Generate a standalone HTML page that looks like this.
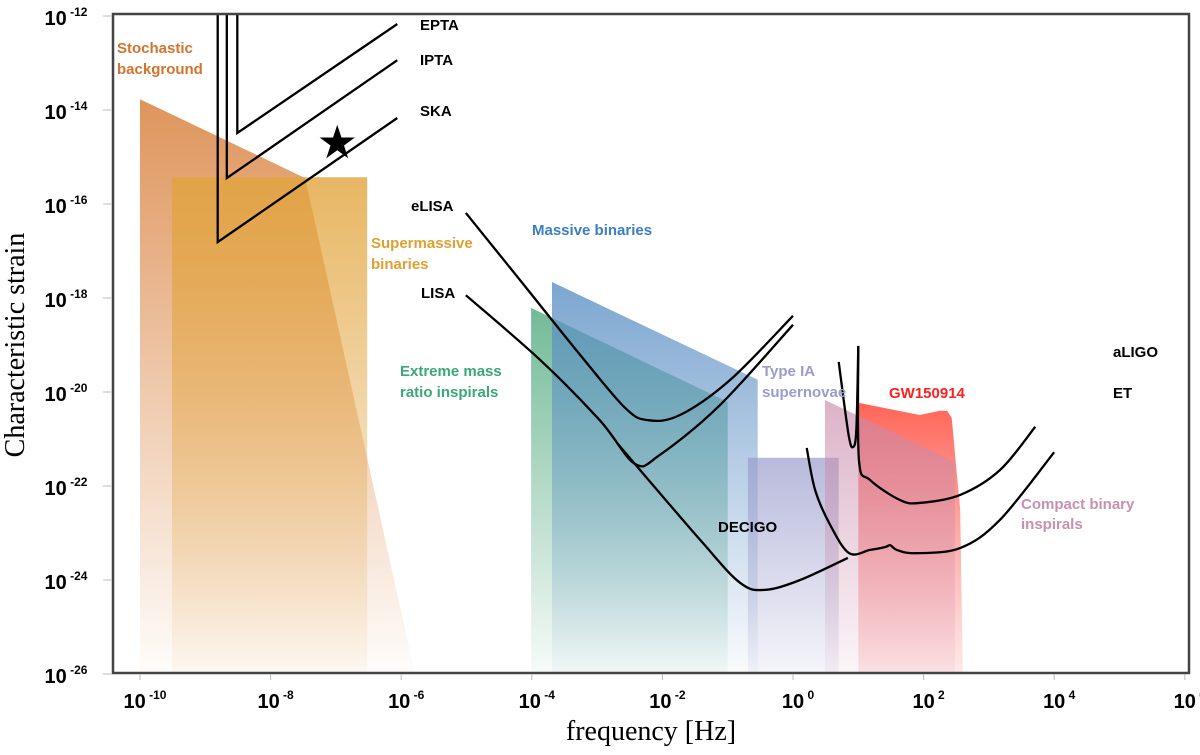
<!DOCTYPE html>
<html><head><meta charset="utf-8"><style>
body{margin:0;background:#fff;}
svg text{font-family:"Liberation Sans",sans-serif;}
</style></head><body>
<svg id="chart" width="1200" height="750" viewBox="0 0 1200 750" xmlns="http://www.w3.org/2000/svg">
<defs>
<linearGradient id="gOr" x1="0" y1="0" x2="0" y2="1"><stop offset="0" stop-color="#d9823f" stop-opacity="0.85"/><stop offset="1" stop-color="#d9823f" stop-opacity="0.02"/></linearGradient>
<linearGradient id="gYe" x1="0" y1="0" x2="0" y2="1"><stop offset="0" stop-color="#e2a43c" stop-opacity="0.8"/><stop offset="1" stop-color="#e2a43c" stop-opacity="0.05"/></linearGradient>
<linearGradient id="gGr" x1="0" y1="0" x2="0" y2="1"><stop offset="0" stop-color="#5aae86" stop-opacity="0.85"/><stop offset="1" stop-color="#5aae86" stop-opacity="0.05"/></linearGradient>
<linearGradient id="gBl" x1="0" y1="0" x2="0" y2="1"><stop offset="0" stop-color="#5b8fc4" stop-opacity="0.8"/><stop offset="1" stop-color="#5b8fc4" stop-opacity="0.03"/></linearGradient>
<linearGradient id="gLa" x1="0" y1="0" x2="0" y2="1"><stop offset="0" stop-color="#9a9ccc" stop-opacity="0.7"/><stop offset="1" stop-color="#9a9ccc" stop-opacity="0.1"/></linearGradient>
<linearGradient id="gPk" x1="0" y1="0" x2="0" y2="1"><stop offset="0" stop-color="#c98aaa" stop-opacity="0.65"/><stop offset="1" stop-color="#c98aaa" stop-opacity="0.08"/></linearGradient>
<linearGradient id="gRd" x1="0" y1="0" x2="0" y2="1"><stop offset="0" stop-color="#ff4a3a" stop-opacity="0.85"/><stop offset="1" stop-color="#ff6a6a" stop-opacity="0.15"/></linearGradient>
</defs>
<g id="regions"></g>
<g id="curves"></g>
<rect x="113" y="14" width="1076" height="659" fill="none" stroke="#444" stroke-width="2.5"/>
<g id="ticks"></g>
<g font-weight="bold" font-size="15">
<text x="117" y="53" fill="#d2732e">Stochastic</text>
<text x="117" y="74" fill="#d2732e">background</text>
<text x="371" y="248" fill="#e0a030">Supermassive</text>
<text x="371" y="269" fill="#e0a030">binaries</text>
<text x="532" y="235" fill="#3c7fc0">Massive binaries</text>
<text x="400" y="376" fill="#3aa878">Extreme mass</text>
<text x="400" y="397" fill="#3aa878">ratio inspirals</text>
<text x="762" y="376" fill="#9a9ccc">Type IA</text>
<text x="762" y="397" fill="#9a9ccc">supernovae</text>
<text x="889" y="398" fill="#ff2020">GW150914</text>
<text x="1021" y="509" fill="#c890b0">Compact binary</text>
<text x="1021" y="529" fill="#c890b0">inspirals</text>
<g fill="#000">
<text x="420" y="30">EPTA</text>
<text x="420" y="65">IPTA</text>
<text x="420" y="116">SKA</text>
<text x="411" y="211">eLISA</text>
<text x="421" y="298">LISA</text>
<text x="718" y="532">DECIGO</text>
<text x="1113" y="357">aLIGO</text>
<text x="1113" y="398">ET</text>
</g></g>
<text id="star" x="0" y="0" font-size="46" text-anchor="middle" font-family="DejaVu Sans">★</text>
<text x="651" y="740" text-anchor="middle" font-size="28" style="font-family:'Liberation Serif',serif">frequency [Hz]</text>
<text transform="translate(24,345) rotate(-90)" text-anchor="middle" font-size="28" style="font-family:'Liberation Serif',serif">Characteristic strain</text>
</svg>
<script>
const xTicks=[-10,-8,-6,-4,-2,0,2,4,6];
const yTicks=[-12,-14,-16,-18,-20,-22,-24,-26];
const stochastic=[[-10,-13.77],[-7.47,-15.45],[-5.79,-26],[-10,-26]];
const supermassive=[[-9.51,-15.43],[-6.52,-15.43],[-6.52,-26],[-9.51,-26]];
const emri=[[-4.01,-18.21],[-1.0,-20.21],[-1.0,-26],[-4.01,-26]];
const massive=[[-3.69,-17.66],[-0.54,-19.74],[-0.54,-26],[-3.69,-26]];
const typeIa=[[-0.69,-21.40],[0.70,-21.40],[0.70,-26],[-0.69,-26]];
const compact=[[0.49,-20.17],[2.48,-21.49],[2.48,-26],[0.49,-26]];
const gw150914=[[1.0,-20.23],[1.94,-20.49],[2.25,-20.40],[2.36,-20.40],[2.43,-20.55],[2.56,-22.51],[2.60,-26],[1.0,-26]];
const epta=[[-8.51,-11.96],[-8.51,-14.49],[-6.06,-12.17]];
const ipta=[[-8.67,-11.96],[-8.67,-15.45],[-6.06,-12.94]];
const ska=[[-8.81,-11.96],[-8.81,-16.81],[-6.06,-14.17]];
const elisa=[[-5.01,-16.19],[-4.18,-17.62],[-3.26,-19.21],[-2.57,-20.34],[-2.22,-20.60],[-1.73,-20.49],[-0.96,-19.74],[0.0,-18.38]];
const lisa=[[-5.01,-17.94],[-3.87,-19.32],[-2.96,-20.60],[-2.42,-21.53],[-2.04,-21.34],[-1.12,-20.28],[0.0,-18.57]];
const decigo=[[-2.68,-21.11],[-1.42,-23.15],[-0.81,-24.06],[-0.43,-24.21],[0.11,-24.0],[0.84,-23.53]];
const aligoNotch=[[0.70,-19.36],[0.85,-20.9],[0.92,-21.17],[0.97,-20.8],[1.00,-19.02]];
const aligo=[[1.00,-19.02],[1.01,-21.45],[1.18,-21.87],[1.64,-22.30],[1.94,-22.36],[2.56,-22.19],[3.17,-21.66],[3.71,-20.74]];
const et=[[0.21,-21.19],[0.34,-22.09],[0.57,-22.83],[0.86,-23.43],[1.18,-23.36],[1.41,-23.30],[1.49,-23.26],[1.59,-23.36],[1.87,-23.43],[2.56,-23.32],[3.17,-22.72],[4.0,-21.28]];
const starPt=[-6.98,-14.68];

const X=v=>140+(v+10)*65.3;
const Y=v=>16+(-12-v)*47;
const NS='http://www.w3.org/2000/svg';
const pts=a=>a.map(p=>X(p[0]).toFixed(1)+','+Y(p[1]).toFixed(1)).join(' ');
const reg=document.getElementById('regions');
function poly(data,fill,name){
  const e=document.createElementNS(NS,'polygon');
  e.setAttribute('points',pts(data));e.setAttribute('fill',fill);
  
  
  reg.appendChild(e);
}
poly(stochastic,'url(#gOr)','region-stochastic-background');
poly(supermassive,'url(#gYe)','region-supermassive-binaries');
poly(emri,'url(#gGr)','region-extreme-mass-ratio');
poly(massive,'url(#gBl)','region-massive-binaries');
poly(typeIa,'url(#gLa)','region-type-ia');
poly(gw150914,'url(#gRd)','region-gw150914');
poly(compact,'url(#gPk)','region-compact-binary');
const cv=document.getElementById('curves');
function smooth(a){
  const p=a.map(q=>[X(q[0]),Y(q[1])]);
  let d='M'+p[0][0]+','+p[0][1];
  for(let i=0;i<p.length-1;i++){
    const p0=p[Math.max(0,i-1)],p1=p[i],p2=p[i+1],p3=p[Math.min(p.length-1,i+2)];
    const c1=[p1[0]+(p2[0]-p0[0])/6,p1[1]+(p2[1]-p0[1])/6];
    const c2=[p2[0]-(p3[0]-p1[0])/6,p2[1]-(p3[1]-p1[1])/6];
    d+=' C'+c1.join(',')+' '+c2.join(',')+' '+p2.join(',');
  }
  return d;
}
function curve(data,name,isSmooth){
  const e=document.createElementNS(NS,isSmooth?'path':'polyline');
  if(isSmooth)e.setAttribute('d',smooth(data));else e.setAttribute('points',pts(data));
  e.setAttribute('fill','none');e.setAttribute('stroke','#000');e.setAttribute('stroke-width','2.3');
  
  
  cv.appendChild(e);
}
curve(epta,'curve-epta',false);
curve(ipta,'curve-ipta',false);
curve(ska,'curve-ska',false);
curve(elisa,'curve-elisa',true);
curve(lisa,'curve-lisa',true);
curve(decigo,'curve-decigo',true);
curve(aligoNotch,'curve-aligo-notch',true);
curve(aligo,'curve-aligo',true);
curve(et,'curve-et',true);
const st=document.getElementById('star');
st.setAttribute('x',X(starPt[0]));st.setAttribute('y',Y(starPt[1])+16);
const tk=document.getElementById('ticks');
function txt(x,y,base,exp,name){
  const t=document.createElementNS(NS,'text');
  t.setAttribute('x',x);t.setAttribute('y',y);t.setAttribute('font-weight','bold');t.setAttribute('font-size','20');
  t.setAttribute('text-anchor','middle');
  t.innerHTML=base+'<tspan font-size="12" dy="-9"> '+exp+'</tspan>';
  
  
  tk.appendChild(t);
}
xTicks.forEach(v=>{
  const l=document.createElementNS(NS,'line');
  l.setAttribute('x1',X(v));l.setAttribute('x2',X(v));l.setAttribute('y1',674);l.setAttribute('y2',680);
  l.setAttribute('stroke','#bbb');
  
  
  tk.appendChild(l);
  txt(X(v)+5,708,'10',v,'x-tick-label');
});
yTicks.forEach(v=>{
  const l=document.createElementNS(NS,'line');
  l.setAttribute('x1',103);l.setAttribute('x2',112);l.setAttribute('y1',Y(v));l.setAttribute('y2',Y(v));
  l.setAttribute('stroke','#bbb');
  
  
  tk.appendChild(l);
  txt(66,Y(v)+9,'10',v,'y-tick-label');
});
</script>
</body></html>
